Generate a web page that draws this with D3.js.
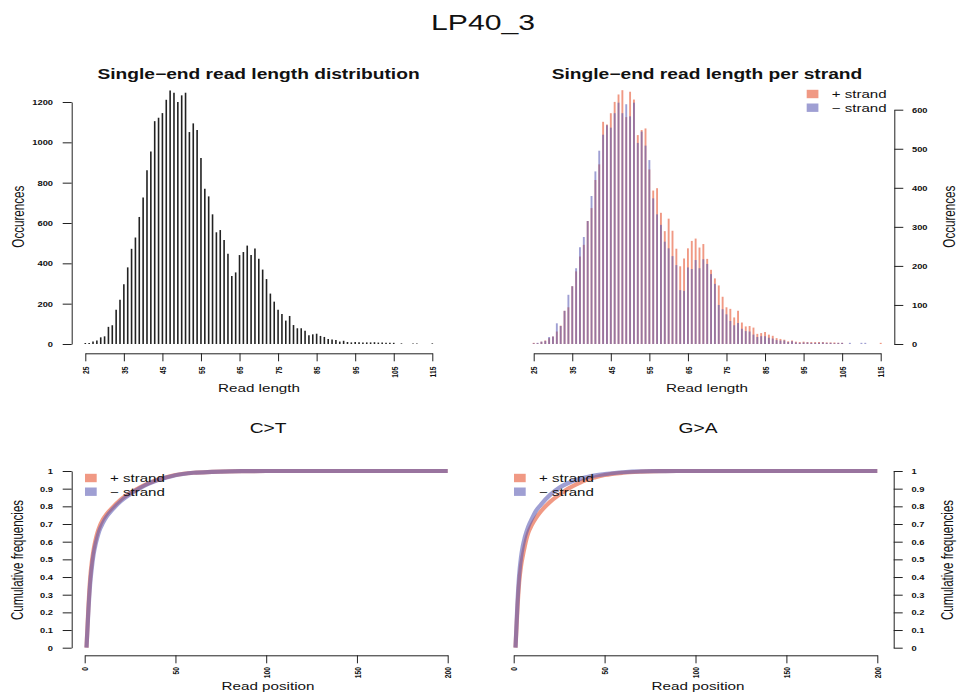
<!DOCTYPE html>
<html><head><meta charset="utf-8">
<script src="https://cdn.jsdelivr.net/npm/d3@7"></script>
<style>
body{margin:0;background:#fff;}
svg text{font-family:"Liberation Sans",Arial,Helvetica,sans-serif;fill:#111;}
</style></head>
<body><svg id="c" width="957" height="693"></svg>
<script>
// ---------- data ----------
const readLength = [25,26,27,28,29,30,31,32,33,34,35,36,37,38,39,40,41,42,43,44,45,46,47,48,49,50,51,52,53,54,55,56,57,58,59,60,61,62,63,64,65,66,67,68,69,70,71,72,73,74,75,76,77,78,79,80,81,82,83,84,85,86,87,88,89,90,91,92,93,94,95,96,97,98,99,100,101,102,103,104,105,106,107,108,109,110,111,112,113,114,115];
const totalCounts = [5,5,12,17,33,38,85,93,170,220,296,380,472,528,630,727,862,955,1105,1122,1145,1211,1257,1246,1200,1233,1246,1051,1094,1061,922,770,732,643,554,565,516,448,337,355,441,456,488,441,474,423,369,322,250,210,170,149,116,139,94,78,78,66,44,48,51,40,35,25,22,20,12,16,10,8,10,9,8,8,8,9,7,7,6,6,6,0,3,0,0,3,3,0,0,0,3];
const plusCounts = [3,2,6,9,15,19,32,47,85,94,148,186,224,254,315,348,420,460,569,562,591,620,639,650,581,646,626,535,548,552,447,393,399,336,289,321,290,244,199,219,245,264,270,247,256,218,190,168,150,121,94,90,68,85,55,45,46,42,26,28,31,24,21,15,13,11,7,9,6,5,6,5,5,5,5,5,4,4,4,3,3,0,0,0,0,0,0,0,0,0,3];
const minusCounts = [2,3,6,8,18,19,53,46,85,126,148,194,248,274,315,379,442,495,536,560,554,591,618,591,614,583,618,515,544,508,471,373,332,305,262,245,225,202,138,136,196,192,215,194,217,205,179,154,100,89,76,59,48,54,39,33,32,24,18,20,20,16,14,10,9,9,5,7,4,3,4,4,3,3,3,4,3,3,2,3,3,0,3,0,0,3,3,0,0,0,0];

const readPosition = [1,2,3,4,5,6,7,8,10,12,15,20,25,30,35,40,45,50,60,70,80,90,100,125,150,175,200];
const ctPlus  = [0,0.22,0.39,0.49,0.56,0.61,0.65,0.68,0.725,0.755,0.79,0.84,0.875,0.905,0.93,0.95,0.965,0.977,0.99,0.995,0.998,0.999,1,1,1,1,1];
const ctMinus = [0,0.20,0.36,0.46,0.535,0.585,0.625,0.66,0.705,0.74,0.778,0.83,0.868,0.9,0.927,0.948,0.963,0.976,0.99,0.995,0.998,0.999,1,1,1,1,1];
const gaPlus  = [0,0.21,0.37,0.46,0.52,0.57,0.615,0.65,0.695,0.73,0.772,0.825,0.865,0.90,0.927,0.95,0.965,0.977,0.99,0.996,0.999,1,1,1,1,1,1];
const gaMinus = [0,0.24,0.41,0.51,0.575,0.62,0.655,0.685,0.73,0.77,0.81,0.865,0.905,0.932,0.952,0.965,0.975,0.982,0.993,0.998,0.999,1,1,1,1,1,1];

const lengthTicks = [25,35,45,55,65,75,85,95,105,115];
const totalTicks = [0,200,400,600,800,1000,1200];
const strandTicks = [0,100,200,300,400,500,600];
const posTicks = [0,50,100,150,200];
const freqTicks = [0,0.1,0.2,0.3,0.4,0.5,0.6,0.7,0.8,0.9,1];

const mainTitle = "LP40_3";
const legendLabels = ["+ strand", "\u2212 strand"];
const plusColor = "rgba(233,110,80,0.7)";
const minusColor = "rgba(90,90,180,0.58)";

// ---------- helpers ----------
const SX = 1.37;
const svg = d3.select("#c");
const AX = "#222";

function txt(x, y, s, o) {
  const t = svg.append("text")
    .attr("transform", `translate(${x},${y}) scale(${SX},1)` + (o.rot ? ` rotate(${o.rot})` : ""))
    .attr("text-anchor", o.anchor || "middle")
    .attr("font-size", o.fs)
    .attr("font-weight", o.bold ? "bold" : "normal")
    .text(s);
  if (o.dy) t.attr("dy", o.dy);
  return t;
}
function styleAxis(g) {
  g.selectAll("path,line").attr("stroke", AX).attr("stroke-width", 1);
  g.attr("font-family", null).attr("font-size", null);
  g.selectAll("text").attr("font-size", 6.8).attr("font-weight", "bold").attr("fill", "#111");
}
function leftAxis(scale, ticks, fmt, x) {
  const g = svg.append("g").attr("transform", `translate(${x},0)`)
    .call(d3.axisLeft(scale).tickValues(ticks).tickFormat(fmt).tickSize(9).tickSizeOuter(0));
  styleAxis(g);
  g.selectAll("text").attr("x", null).attr("dy", null)
    .attr("transform", `translate(-18.7,0) scale(${SX},1)`).attr("dy", "0.35em").attr("text-anchor", "end");
}
function rightAxis(scale, ticks, fmt, x) {
  const g = svg.append("g").attr("transform", `translate(${x},0)`)
    .call(d3.axisRight(scale).tickValues(ticks).tickFormat(fmt).tickSize(9).tickSizeOuter(0));
  styleAxis(g);
  g.selectAll("text").attr("x", null).attr("dy", null)
    .attr("transform", `translate(17.7,0) scale(${SX},1)`).attr("dy", "0.35em").attr("text-anchor", "start");
}
function bottomAxis(scale, ticks, y, off) {
  const g = svg.append("g").attr("transform", `translate(0,${y})`)
    .call(d3.axisBottom(scale).tickValues(ticks).tickFormat(d3.format("d")).tickSize(8).tickSizeOuter(0));
  styleAxis(g);
  g.selectAll("text").attr("y", null).attr("dy", null)
    .attr("transform", `translate(0,${off}) scale(${SX},1) rotate(-90)`).attr("dy", "0.35em").attr("text-anchor", "end");
}
function legend(x, y, tx) {
  [plusColor, minusColor].forEach((c, i) => {
    const cy = y + i * 13.7;
    svg.append("rect").attr("x", x).attr("y", cy - 4.2).attr("width", 11.7).attr("height", 8.4).attr("fill", c);
    txt(tx, cy + 4, legendLabels[i], {fs: 11, anchor: "start"});
  });
}
const fmtFreq = d => d === 0 ? "0" : d === 1 ? "1" : d3.format(".1f")(d);

// ---------- main title ----------
txt(483, 30, mainTitle, {fs: 22});

// ---------- panel 1: total length distribution ----------
const x1 = d3.scaleLinear().domain([25, 115]).range([85.3, 432.3]);
const y1 = d3.scaleLinear().domain([0, 1200]).range([344, 102]);
svg.append("g").selectAll("line").data(readLength).join("line")
  .attr("x1", d => x1(d)).attr("x2", d => x1(d))
  .attr("y1", y1(0)).attr("y2", (d, i) => y1(totalCounts[i]))
  .attr("stroke", "#222").attr("stroke-width", 1.6);
leftAxis(y1, totalTicks, d3.format("d"), 71.7);
bottomAxis(x1, lengthTicks, 353.3, 13.2);
txt(258.5, 79, "Single\u2212end read length distribution", {fs: 14, bold: true});
txt(259, 392, "Read length", {fs: 11.1});
txt(24, 216.7, "Occurences", {fs: 11.6, rot: -90});

// ---------- panel 2: per strand ----------
const x2 = d3.scaleLinear().domain([25, 115]).range([533.7, 880.7]);
const y2 = d3.scaleLinear().domain([0, 600]).range([344, 109.7]);
svg.append("g").selectAll("line").data(readLength).join("line")
  .attr("x1", d => x2(d)).attr("x2", d => x2(d))
  .attr("y1", y2(0)).attr("y2", (d, i) => y2(plusCounts[i]))
  .attr("stroke", plusColor).attr("stroke-width", 1.9);
svg.append("g").selectAll("line").data(readLength).join("line")
  .attr("x1", d => x2(d)).attr("x2", d => x2(d))
  .attr("y1", y2(0)).attr("y2", (d, i) => y2(minusCounts[i]))
  .attr("stroke", minusColor).attr("stroke-width", 1.9);
rightAxis(y2, strandTicks, d3.format("d"), 894.3);
bottomAxis(x2, lengthTicks, 353.3, 13.2);
txt(707, 79, "Single\u2212end read length per strand", {fs: 14, bold: true});
txt(707, 392, "Read length", {fs: 11.1});
txt(955, 216.7, "Occurences", {fs: 11.6, rot: -90});
legend(806.7, 94, 831.7);

// ---------- panel 3 & 4: cumulative ----------
function cumPanel(x0, x1r, axisX, right, plus, minus, title, cx, legX, legTX) {
  const xs = d3.scaleLinear().domain([0, 200]).range([x0, x1r]);
  const ys = d3.scaleLinear().domain([0, 1]).range([647.7, 471]);
  const line = d3.line().x((d, i) => xs(readPosition[i])).y(d => ys(d)).curve(d3.curveMonotoneX);
  svg.append("path").datum(plus).attr("d", line).attr("fill", "none")
    .attr("stroke", plusColor).attr("stroke-width", 4.2).attr("stroke-linejoin", "round");
  svg.append("path").datum(minus).attr("d", line).attr("fill", "none")
    .attr("stroke", minusColor).attr("stroke-width", 4.2).attr("stroke-linejoin", "round");
  if (right) rightAxis(ys, freqTicks, fmtFreq, axisX); else leftAxis(ys, freqTicks, fmtFreq, axisX);
  bottomAxis(xs, posTicks, 655.3, 11.7);
  txt(cx, 433, title, {fs: 14});
  txt(cx, 690, "Read position", {fs: 11.1});
  txt(right ? 953 : 22.5, 560, "Cumulative frequencies", {fs: 11.5, rot: -90});
  legend(legX, 478, legTX);
}
cumPanel(84.7, 447.7, 71.7, false, ctPlus, ctMinus, "C>T", 268, 85, 110);
cumPanel(513.7, 877.3, 893.7, true, gaPlus, gaMinus, "G>A", 698, 514, 539);
</script></body></html>
